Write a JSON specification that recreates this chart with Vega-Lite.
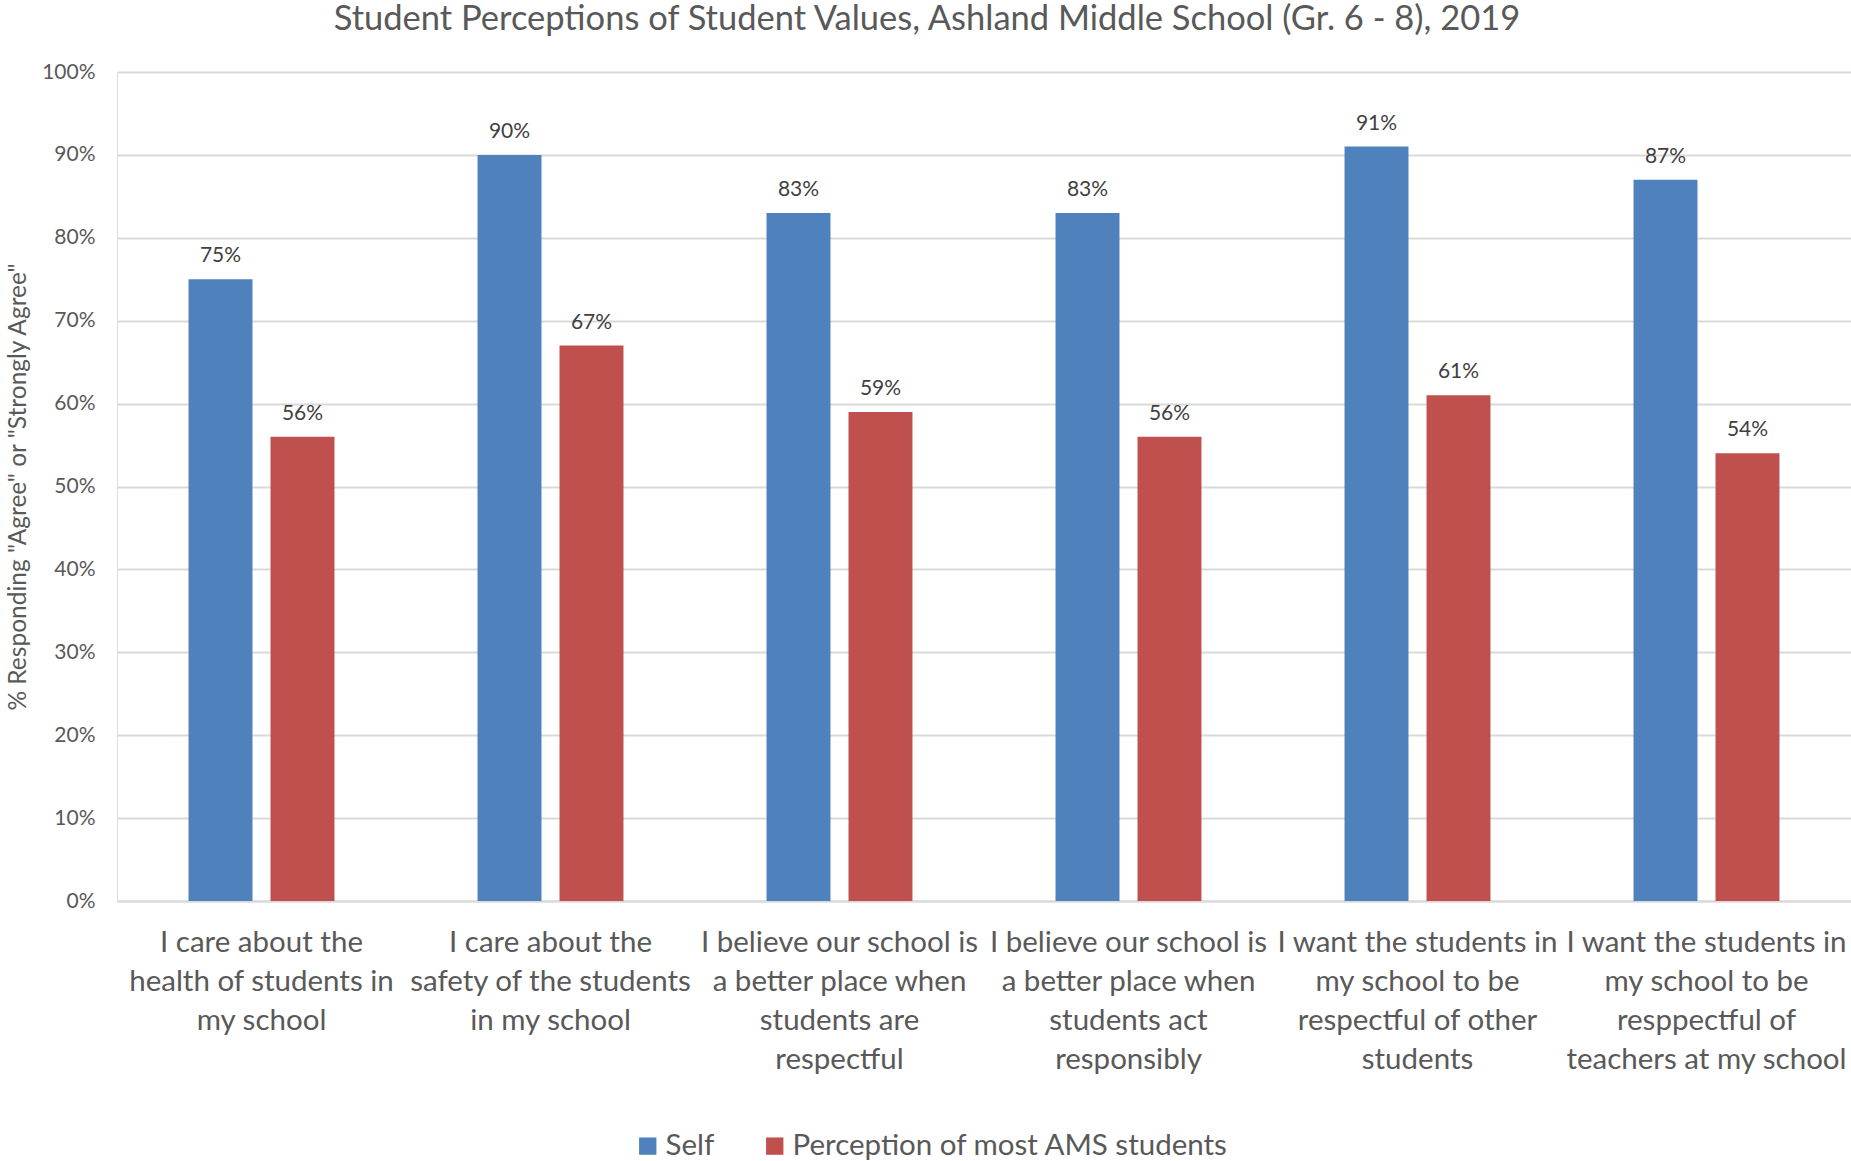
{
  "$schema": "https://vega.github.io/schema/vega-lite/v6.json",
  "autosize": "none",
  "width": 1734,
  "height": 829,
  "padding": {"left": 117, "top": 72, "right": 0, "bottom": 260},
  "background": "white",
  "title": {
    "text": "Student Perceptions of Student Values, Ashland Middle School (Gr. 6 - 8), 2019",
    "font": "Lato",
    "fontSize": 34.5,
    "fontWeight": "normal",
    "color": "#595959",
    "anchor": "middle",
    "dx": -57,
    "offset": 24
  },
  "data": {
    "values": [
      {"question": "I care about the|health of students in|my school", "series": "Self", "value": 0.75},
      {"question": "I care about the|health of students in|my school", "series": "Perception of most AMS students", "value": 0.56},
      {"question": "I care about the|safety of the students|in my school", "series": "Self", "value": 0.90},
      {"question": "I care about the|safety of the students|in my school", "series": "Perception of most AMS students", "value": 0.67},
      {"question": "I believe our school is|a better place when|students are|respectful", "series": "Self", "value": 0.83},
      {"question": "I believe our school is|a better place when|students are|respectful", "series": "Perception of most AMS students", "value": 0.59},
      {"question": "I believe our school is|a better place when|students act|responsibly", "series": "Self", "value": 0.83},
      {"question": "I believe our school is|a better place when|students act|responsibly", "series": "Perception of most AMS students", "value": 0.56},
      {"question": "I want the students in|my school to be|respectful of other|students", "series": "Self", "value": 0.91},
      {"question": "I want the students in|my school to be|respectful of other|students", "series": "Perception of most AMS students", "value": 0.61},
      {"question": "I want the students in|my school to be|resppectful of|teachers at my school", "series": "Self", "value": 0.87},
      {"question": "I want the students in|my school to be|resppectful of|teachers at my school", "series": "Perception of most AMS students", "value": 0.54}
    ]
  },
  "encoding": {
    "x": {
      "field": "question",
      "type": "nominal",
      "sort": null,
      "scale": {"paddingInner": 0.495, "paddingOuter": 0.2475},
      "axis": {
        "title": null,
        "labelExpr": "split(datum.label, '|')",
        "labelAngle": 0,
        "labelFont": "Lato",
        "labelFontSize": 29.5,
        "labelColor": "#595959",
        "labelLineHeight": 39,
        "labelPadding": 27,
        "labelLimit": 0,
        "labelOverlap": false,
        "ticks": false,
        "domainColor": "#D9D9D9",
        "domainWidth": 2,
        "grid": false
      }
    },
    "xOffset": {
      "field": "series",
      "type": "nominal",
      "sort": ["Self", "Perception of most AMS students"],
      "scale": {"paddingInner": 0.22, "paddingOuter": 0}
    },
    "y": {
      "field": "value",
      "type": "quantitative",
      "scale": {"domain": [0, 1], "nice": false},
      "axis": {
        "title": "% Responding \"Agree\" or \"Strongly Agree\"",
        "titleFont": "Lato",
        "titleFontSize": 24.5,
        "titleFontWeight": "normal",
        "titleColor": "#595959",
        "titlePadding": 11,
        "format": ".0%",
        "values": [0, 0.1, 0.2, 0.3, 0.4, 0.5, 0.6, 0.7, 0.8, 0.9, 1.0],
        "labelFont": "Lato",
        "labelFontSize": 21,
        "labelColor": "#595959",
        "labelPadding": 22,
        "ticks": false,
        "domain": false,
        "gridColor": "#D9D9D9",
        "gridWidth": 2
      }
    }
  },
  "layer": [
    {
      "mark": {"type": "bar"},
      "encoding": {
        "color": {
          "field": "series",
          "type": "nominal",
          "scale": {"domain": ["Self", "Perception of most AMS students"], "range": ["#4F81BD", "#C0504D"]},
          "legend": {
            "title": null,
            "orient": "none",
            "direction": "horizontal",
            "legendX": 516,
            "legendY": 1059,
            "symbolType": "square",
            "symbolSize": 300,
            "symbolStrokeWidth": 0,
            "labelFont": "Lato",
            "labelFontSize": 29.5,
            "labelColor": "#595959",
            "labelLimit": 0,
            "columnPadding": 45,
            "labelOffset": 3
          }
        }
      }
    },
    {
      "mark": {"type": "text", "baseline": "bottom", "dy": -13, "font": "Lato", "fontSize": 21, "color": "#404040"},
      "encoding": {
        "text": {"field": "value", "type": "quantitative", "format": ".0%"}
      }
    }
  ]
}
